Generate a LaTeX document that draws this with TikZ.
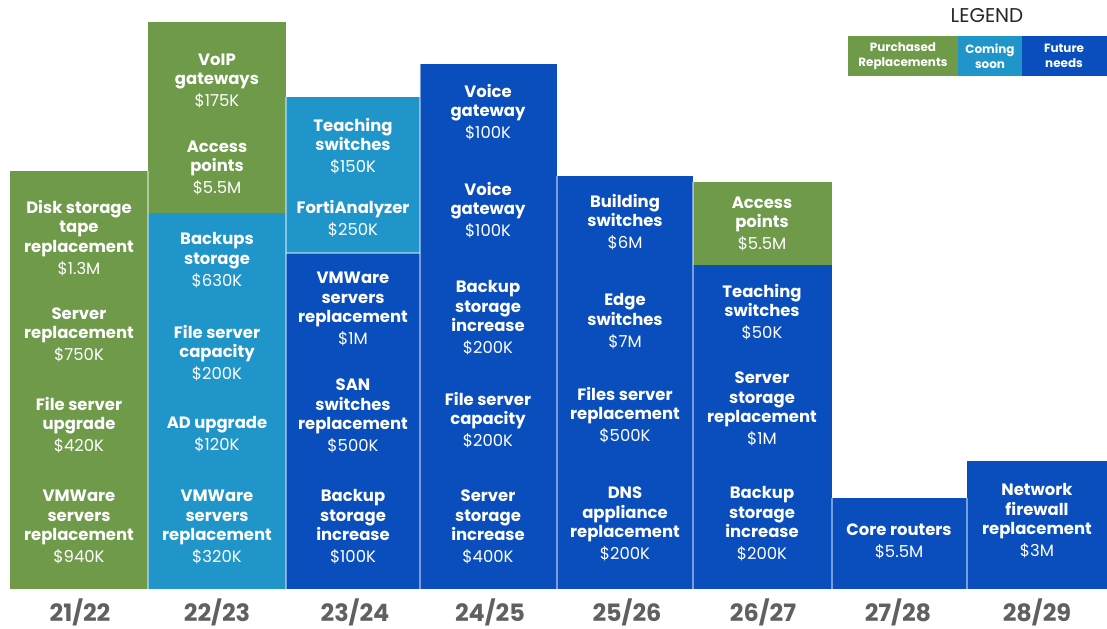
\documentclass[tikz,border=0pt]{standalone}
\usepackage{fontspec}
\setmainfont{Poppins}
\definecolor{cgreen}{HTML}{6E9A4A}
\definecolor{ccyan}{HTML}{1F95C9}
\definecolor{cblue}{HTML}{0A4EBE}
\definecolor{cyear}{HTML}{606060}
\newcommand\amt[1]{{\mdseries\fontsize{16.5}{19.5}\selectfont #1}}
\tikzset{
  itm/.style={align=center,text=white,inner sep=0pt,font=\bfseries\fontsize{16.5}{19.5}\selectfont},
  yr/.style={text=cyear,inner sep=0pt,font=\bfseries\fontsize{24}{26}\selectfont},
  leg/.style={align=center,text=white,inner sep=0pt,font=\bfseries\fontsize{12}{15.5}\selectfont},
  sepline/.style={draw=white,draw opacity=0.45,line width=1.5bp},
}
\newcommand\itm[4]{\node[itm] (#1) at (#2,#3) {#4};}
\begin{document}
\begin{tikzpicture}[x=1bp,y=-1bp]
\useasboundingbox[fill=white] (0,0) rectangle (1107,629);
% blocks
\fill[cgreen] (10,171) rectangle (148,589);
\fill[cgreen] (148,22) rectangle (286,213);
\fill[ccyan] (148,213) rectangle (286,589);
\fill[ccyan] (286,97) rectangle (420,253);
\fill[cblue] (286,253) rectangle (420,589);
\fill[cblue] (420,64) rectangle (557,589);
\fill[cblue] (557,176) rectangle (693,589);
\fill[cgreen] (693,182) rectangle (832,265);
\fill[cblue] (693,265) rectangle (832,589);
\fill[cblue] (832,498) rectangle (967,589);
\fill[cblue] (967,461) rectangle (1107,589);
% separators
\draw[sepline] (148,171) -- (148,589);
\draw[sepline] (286,97) -- (286,589);
\draw[sepline] (420,64) -- (420,589);
\draw[sepline] (557,176) -- (557,589);
\draw[sepline] (693,182) -- (693,589);
\draw[sepline] (832,498) -- (832,589);
\draw[sepline] (967,498) -- (967,589);
\draw[sepline] (286,253) -- (420,253);
% column 21/22
\itm{a1}{79}{238}{Disk storage\\tape\\replacement\\[2.5bp]\amt{\$1.3M}}
\itm{a2}{79}{335}{Server\\replacement\\[2.5bp]\amt{\$750K}}
\itm{a3}{79}{425}{File server\\upgrade\\[2.5bp]\amt{\$420K}}
\itm{a4}{79}{527}{VMWare\\servers\\replacement\\[2.5bp]\amt{\$940K}}
% column 22/23
\itm{b1}{217}{81}{VoIP\\gateways\\[2.5bp]\amt{\$175K}}
\itm{b2}{217}{168}{Access\\points\\[2.5bp]\amt{\$5.5M}}
\itm{b3}{217}{260}{Backups\\storage\\[2.5bp]\amt{\$630K}}
\itm{b4}{217}{353}{File server\\capacity\\[2.5bp]\amt{\$200K}}
\itm{b5}{217}{434}{AD upgrade\\[2.5bp]\amt{\$120K}}
\itm{b6}{217}{527}{VMWare\\servers\\replacement\\[2.5bp]\amt{\$320K}}
% column 23/24
\itm{c1}{353}{146}{Teaching\\switches\\[2.5bp]\amt{\$150K}}
\itm{c2}{353}{219}{FortiAnalyzer\\[2.5bp]\amt{\$250K}}
\itm{c3}{353}{309}{VMWare\\servers\\replacement\\[2.5bp]\amt{\$1M}}
\itm{c4}{353}{416}{SAN\\switches\\replacement\\[2.5bp]\amt{\$500K}}
\itm{c5}{353}{527}{Backup\\storage\\increase\\[2.5bp]\amt{\$100K}}
% column 24/25
\itm{d1}{488}{112}{Voice\\gateway\\[2.5bp]\amt{\$100K}}
\itm{d2}{488}{210}{Voice\\gateway\\[2.5bp]\amt{\$100K}}
\itm{d3}{488}{318}{Backup\\storage\\increase\\[2.5bp]\amt{\$200K}}
\itm{d4}{488}{420}{File server\\capacity\\[2.5bp]\amt{\$200K}}
\itm{d5}{488}{527}{Server\\storage\\increase\\[2.5bp]\amt{\$400K}}
% column 25/26
\itm{e1}{625}{222}{Building\\switches\\[2.5bp]\amt{\$6M}}
\itm{e2}{625}{321}{Edge\\switches\\[2.5bp]\amt{\$7M}}
\itm{e3}{625}{415}{Files server\\replacement\\[2.5bp]\amt{\$500K}}
\itm{e4}{625}{524}{DNS\\appliance\\replacement\\[2.5bp]\amt{\$200K}}
% column 26/27
\itm{f1}{762}{224}{Access\\points\\[2.5bp]\amt{\$5.5M}}
\itm{f2}{762}{312}{Teaching\\switches\\[2.5bp]\amt{\$50K}}
\itm{f3}{762}{409}{Server\\storage\\replacement\\[2.5bp]\amt{\$1M}}
\itm{f4}{762}{524}{Backup\\storage\\increase\\[2.5bp]\amt{\$200K}}
% column 27/28
\itm{g1}{899}{541}{Core routers\\[2.5bp]\amt{\$5.5M}}
% column 28/29
\itm{h1}{1037}{521}{Network\\firewall\\replacement\\[2.5bp]\amt{\$3M}}
% years
\node[yr] (y1) at (80,612) {21/22};
\node[yr] (y2) at (217,612) {22/23};
\node[yr] (y3) at (355,612) {23/24};
\node[yr] (y4) at (490,612) {24/25};
\node[yr] (y5) at (627,612) {25/26};
\node[yr] (y6) at (763,612) {26/27};
\node[yr] (y7) at (898,612) {27/28};
\node[yr] (y8) at (1037,612) {28/29};
% legend
\node[inner sep=0pt,text=black!85,font=\fontsize{20}{22}\selectfont] (legt) at (987,16) {LEGEND};
\fill[cgreen] (848,36) rectangle (958,76);
\fill[ccyan] (958,36) rectangle (1022,76);
\fill[cblue] (1022,36) rectangle (1107,76);
\node[leg] (l1) at (903,56) {Purchased\\Replacements};
\node[leg] (l2) at (990,56) {Coming\\soon};
\node[leg] (l3) at (1064,56) {Future\\needs};
\end{tikzpicture}
\end{document}
